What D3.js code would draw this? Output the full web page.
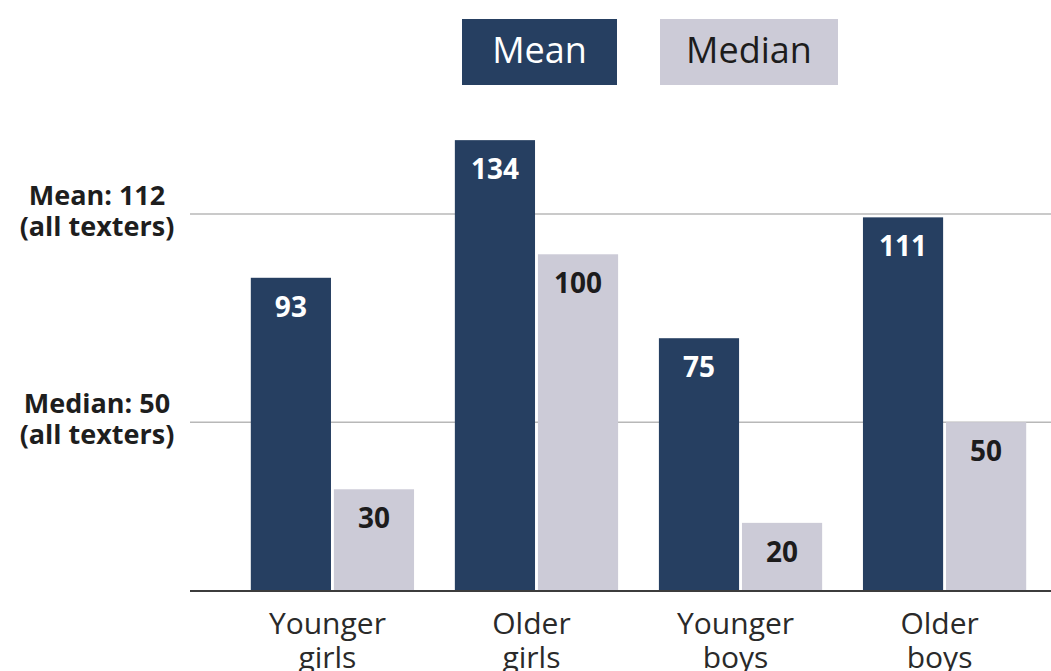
<!DOCTYPE html>
<html>
<head>
<meta charset="utf-8">
<script src="https://cdn.jsdelivr.net/npm/d3@7"></script>
<style>
  body { margin: 0; background: #fff; }
  svg text { font-family: "Open Sans", sans-serif; }
</style>
</head>
<body>
<svg></svg>
<script>
const width = 1051;
const height = 671;

// data
const groups = ["Younger girls", "Older girls", "Younger boys", "Older boys"];
const series = ["Mean", "Median"];
const meanValues = [93, 134, 75, 111];
const medianValues = [30, 100, 20, 50];
const refValues = [112, 50];
const refLabels = [["Mean: 112", "(all texters)"], ["Median: 50", "(all texters)"]];

const colors = { Mean: "#263f61", Median: "#cccbd7" };
const textColors = { Mean: "#ffffff", Median: "#1c1c1c" };

const rows = groups.map((g, i) => ({ group: g, Mean: meanValues[i], Median: medianValues[i] }));

const svg = d3.select("svg")
    .attr("width", width)
    .attr("height", height);

const x0 = d3.scaleBand()
    .domain(groups)
    .range([210, 1067])
    .paddingInner(0.2)
    .paddingOuter(0.2);

const x1 = d3.scaleBand()
    .domain(series)
    .range([0, x0.bandwidth()])
    .paddingInner(0.035);

const y = d3.scaleLinear()
    .domain([0, 112])
    .range([590, 214]);

// reference lines
svg.append("g")
  .selectAll("line")
  .data(refValues)
  .enter()
  .append("line")
    .attr("x1", 190)
    .attr("x2", width)
    .attr("y1", d => y(d))
    .attr("y2", d => y(d))
    .attr("stroke", "#b8b8b8")
    .attr("stroke-width", 1.5);

const refText = svg.append("g")
  .selectAll("text")
  .data(refValues)
  .enter()
  .append("text")
    .attr("text-anchor", "middle")
    .attr("font-size", 27)
    .attr("font-weight", "bold")
    .attr("fill", "#1e1e1e");

refText.each(function(d, i) {
  const t = d3.select(this);
  refLabels[i].forEach((line, j) => {
    t.append("tspan")
      .attr("x", 97)
      .attr("y", y(d) - 9 + j * 31)
      .text(line);
  });
});

// bars
const groupG = svg.append("g")
  .selectAll("g")
  .data(rows)
  .enter()
  .append("g")
    .attr("transform", d => `translate(${x0(d.group)},0)`);

const cells = groupG.selectAll("g")
  .data(d => series.map(s => ({ key: s, value: d[s] })))
  .enter()
  .append("g");

cells.append("rect")
    .attr("x", d => x1(d.key))
    .attr("width", x1.bandwidth())
    .attr("y", d => y(d.value))
    .attr("height", d => y(0) - y(d.value))
    .attr("fill", d => colors[d.key]);

cells.append("text")
    .attr("x", d => x1(d.key) + x1.bandwidth() / 2)
    .attr("y", d => y(d.value) + 39)
    .attr("text-anchor", "middle")
    .attr("font-size", 28)
    .attr("font-weight", "bold")
    .attr("fill", d => textColors[d.key])
    .text(d => d.value);

// baseline axis
svg.append("line")
    .attr("x1", 190)
    .attr("x2", width)
    .attr("y1", y(0) + 1)
    .attr("y2", y(0) + 1)
    .attr("stroke", "#3c3c3c")
    .attr("stroke-width", 2);

// category labels
const catText = svg.append("g")
  .selectAll("text")
  .data(groups)
  .enter()
  .append("text")
    .attr("text-anchor", "middle")
    .attr("font-size", 30)
    .attr("fill", "#2a2a2a");

catText.each(function(d) {
  const t = d3.select(this);
  d.split(" ").forEach((w, j) => {
    t.append("tspan")
      .attr("x", x0(d) + x0.bandwidth() / 2 - 5)
      .attr("y", 634 + j * 34)
      .text(w);
  });
});

// legend
const legendX = [462, 660];
const legendW = [155, 178];
const legend = svg.append("g")
  .selectAll("g")
  .data(series)
  .enter()
  .append("g");

legend.append("rect")
    .attr("x", (d, i) => legendX[i])
    .attr("y", 19)
    .attr("width", (d, i) => legendW[i])
    .attr("height", 66)
    .attr("fill", d => colors[d]);

legend.append("text")
    .attr("x", (d, i) => legendX[i] + legendW[i] / 2)
    .attr("y", 63)
    .attr("text-anchor", "middle")
    .attr("font-size", 36)
    .attr("fill", d => textColors[d])
    .text(d => d);
</script>
</body>
</html>
